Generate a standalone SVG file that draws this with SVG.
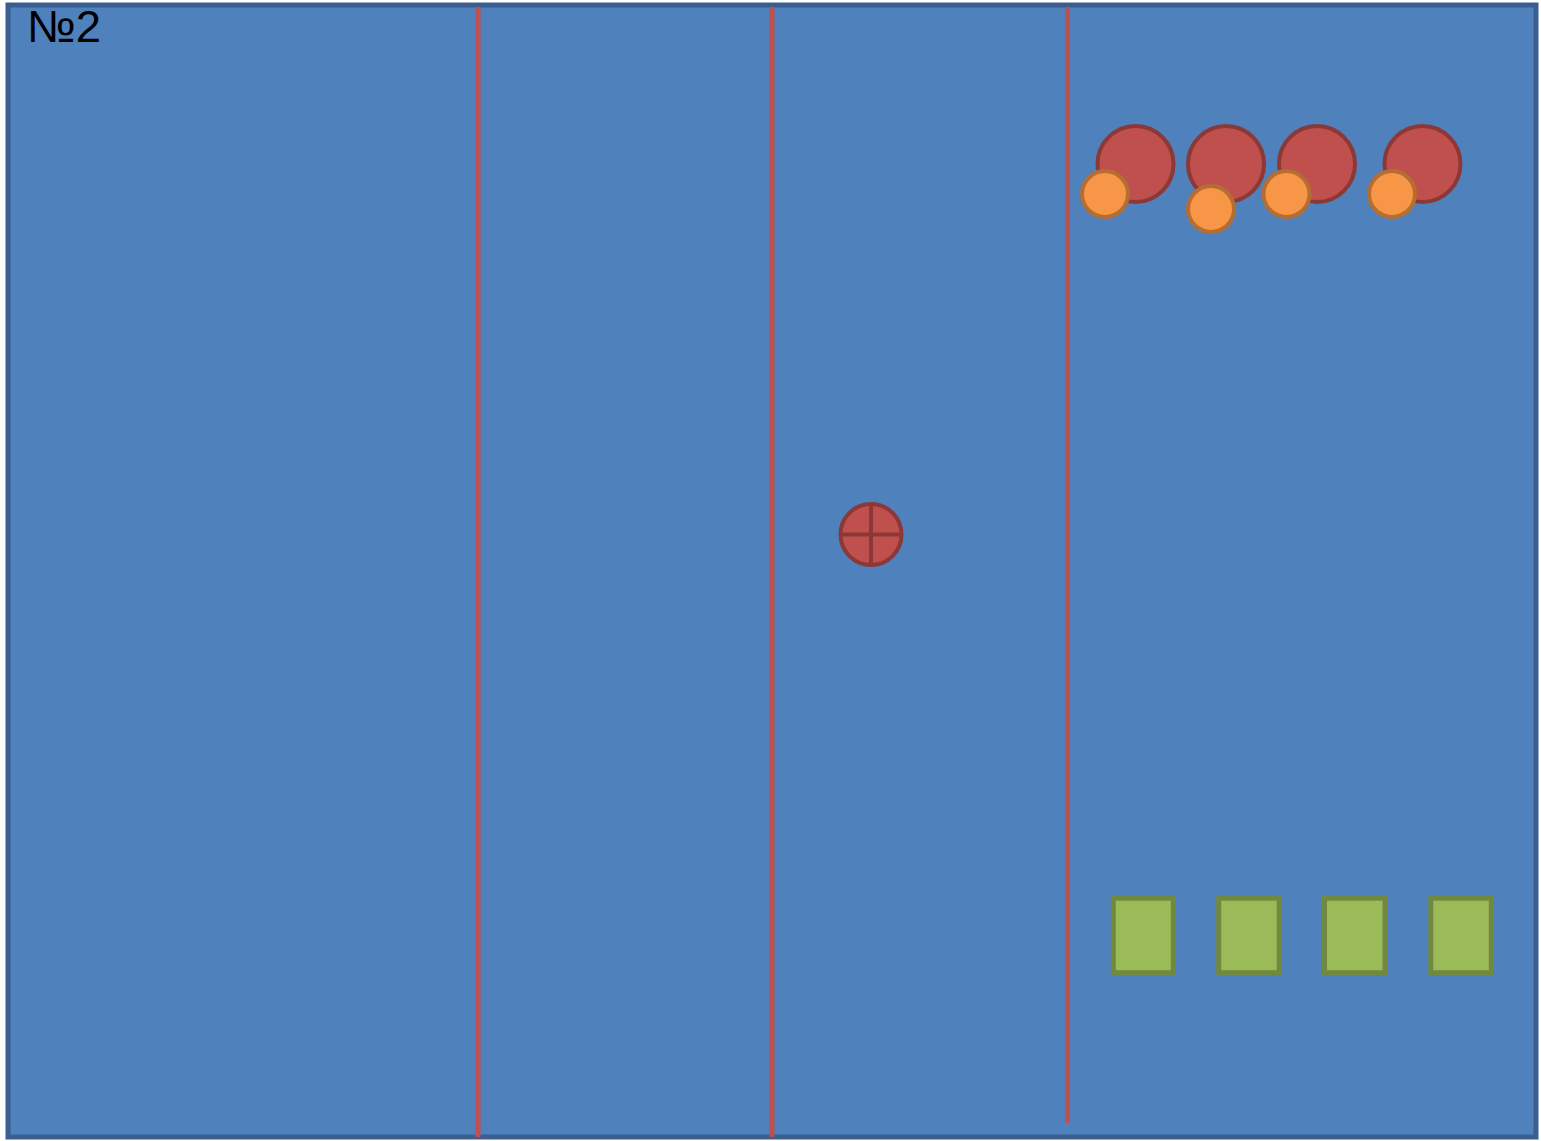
<svg xmlns="http://www.w3.org/2000/svg" width="1541" height="1141" viewBox="0 0 1541 1141">
<defs>
<style>
.lane{stroke:#c0504d;stroke-width:5;fill:none}
.big{fill:#c0504d;stroke:#8c3836;stroke-width:4}
.small{fill:#f79646;stroke:#b66d31;stroke-width:4}
.sq{fill:#9bbb59;stroke:#71893f;stroke-width:5}
.lbl{font-family:"Liberation Sans",Arial,sans-serif;font-size:45px;fill:#000}
</style>
</defs>
<rect x="0" y="0" width="1541" height="1141" fill="#ffffff"/>
<g id="field">
<rect x="8" y="5" width="1528" height="1132" fill="#4f81bd" stroke="#3a5f8f" stroke-width="5"/>
</g>
<g id="connectors">
<line class="lane" x1="478" y1="7" x2="478" y2="1137"/>
<line class="lane" x1="772" y1="7" x2="772" y2="1137"/>
<line class="lane" x1="1067.5" y1="7" x2="1067.5" y2="1123"/>
</g>
<g id="label"><text class="lbl" x="27" y="42" textLength="74" lengthAdjust="spacingAndGlyphs">№2</text></g>
<g id="big1"><circle class="big" cx="1135.5" cy="164" r="38"/></g>
<g id="big2"><circle class="big" cx="1226" cy="164" r="38"/></g>
<g id="big3"><circle class="big" cx="1317" cy="164" r="38"/></g>
<g id="big4"><circle class="big" cx="1422.5" cy="164" r="38"/></g>
<g id="small1"><circle class="small" cx="1105" cy="194" r="23"/></g>
<g id="small2"><circle class="small" cx="1211" cy="209" r="23"/></g>
<g id="small3"><circle class="small" cx="1286.5" cy="194" r="23"/></g>
<g id="small4"><circle class="small" cx="1392" cy="194" r="23"/></g>
<g id="target">
<circle class="big" cx="871" cy="534.5" r="30.5"/>
<line x1="871" y1="504" x2="871" y2="565" stroke="#8c3836" stroke-width="4"/>
<line x1="840.5" y1="534.5" x2="901.5" y2="534.5" stroke="#8c3836" stroke-width="4"/>
</g>
<g id="sq1"><rect class="sq" x="1113.3" y="898.2" width="60" height="74.5"/></g>
<g id="sq2"><rect class="sq" x="1218.7" y="898.2" width="60.5" height="74.5"/></g>
<g id="sq3"><rect class="sq" x="1324.5" y="898.2" width="60.5" height="74.5"/></g>
<g id="sq4"><rect class="sq" x="1430.8" y="898.2" width="60.5" height="74.5"/></g>
</svg>
